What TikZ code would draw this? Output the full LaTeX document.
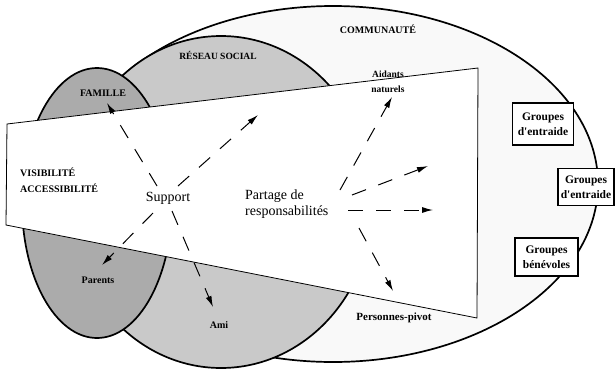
\documentclass[tikz,border=0pt]{standalone}
\usepackage{fontspec}
\setmainfont{Liberation Serif}
\usetikzlibrary{arrows.meta}
\tikzset{
  lab/.style={font=\bfseries\fontsize{10}{11}\selectfont, inner sep=0pt},
  smalllab/.style={font=\bfseries\fontsize{9.5}{11}\selectfont, inner sep=0pt},
  bigtxt/.style={font=\fontsize{14}{16}\selectfont, inner sep=0pt},
  grp/.style={draw, line width=1.7pt, fill=white, align=center, inner sep=0pt,
    font=\bfseries\fontsize{11.5}{15}\selectfont},
  circle line/.style={line width=1.7pt},
  darrow/.style={line width=1pt, dash pattern=on 15pt off 13pt,
    -{Latex[length=11pt,width=6pt]}},
}
\begin{document}
\begin{tikzpicture}[x=1pt,y=-1pt]
\useasboundingbox (0,0) rectangle (615,370);
% community
\draw[circle line, fill=gray!5] (333,184) ellipse [x radius=265, y radius=178];
% réseau social
\draw[circle line, fill=gray!42] (221,202) ellipse [x radius=152, y radius=166];
% famille
\draw[circle line, fill=gray!66] (97,203) ellipse [x radius=75, y radius=135];
% cone
\draw[line width=0.8pt, fill=white] (7,124) -- (478,68) -- (477,318) -- (6,225) -- cycle;

% labels
\node[lab] (comm) at (378,29) {COMMUNAUTÉ};
\node[lab, font=\bfseries\fontsize{9.5}{11}\selectfont] (reseau) at (218,55) {RÉSEAU SOCIAL};
\node[lab] (fam) at (103,93) {FAMILLE};
\node[lab, align=left, anchor=west, font=\bfseries\fontsize{10}{16}\selectfont] (vis) at (20,180) {VISIBILITÉ\\ACCESSIBILITÉ};
\node[bigtxt] (sup) at (168,198) {Support};
\node[bigtxt, align=left, anchor=west] (part) at (245,204) {Partage de\\responsabilités};
\node[smalllab] (aid) at (388,74) {Aidants};
\node[smalllab] (nat) at (388,89) {naturels};
\node[lab] (par) at (98,280) {Parents};
\node[lab] (ami) at (219,325) {Ami};
\node[lab, font=\bfseries\fontsize{11}{12}\selectfont] (pivot) at (394,318) {Personnes-pivot};

% boxes
\node[grp, minimum width=61pt, minimum height=42pt] (g1) at (543,124) {Groupes\\d\textquotesingle entraide};
\node[grp, minimum width=56pt, minimum height=37pt] (g2) at (586,187) {Groupes\\d\textquotesingle entraide};
\node[grp, minimum width=63pt, minimum height=38pt] (g3) at (546.5,257) {Groupes\\bénévoles};

% arrow ends
\coordinate (s1) at (157,186);
\coordinate (s2) at (178,186);
\coordinate (s3) at (153,213);
\coordinate (s4) at (172,211);
\coordinate (t1) at (107,103);
\coordinate (t2) at (258,115);
\coordinate (t3) at (102,265);
\coordinate (t4) at (213,307);
\coordinate (p5) at (340,190);
\coordinate (p6) at (352,195);
\coordinate (p7) at (348,210);
\coordinate (p8) at (359,228);
\coordinate (t5) at (392,97);
\coordinate (t6) at (428,166);
\coordinate (t7) at (433,210);
\coordinate (t8) at (393,291);

\draw[darrow] (s1) -- (t1);
\draw[darrow] (s2) -- (t2);
\draw[darrow] (s3) -- (t3);
\draw[darrow] (s4) -- (t4);
\draw[darrow] (p5) -- (t5);
\draw[darrow] (p6) -- (t6);
\draw[darrow] (p7) -- (t7);
\draw[darrow] (p8) -- (t8);
\end{tikzpicture}
\end{document}
